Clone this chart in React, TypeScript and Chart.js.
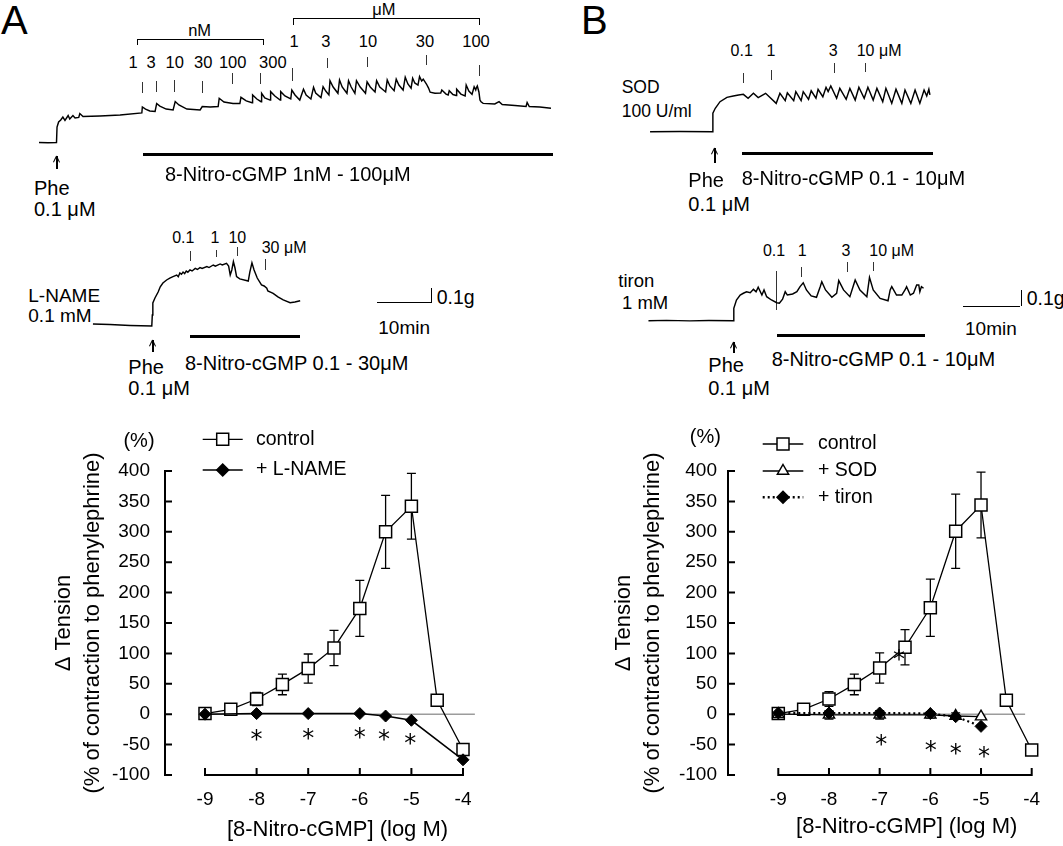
import React, { useEffect, useRef } from "react";
import { Chart, registerables } from "chart.js";

Chart.register(...registerables);

const FONT = '"Liberation Sans", Arial, Helvetica, sans-serif';
Chart.defaults.font.family = FONT;
Chart.defaults.color = "#000";

// ---------------- dose-response data ----------------
const logConc = [-9, -8.5, -8, -7.5, -7, -6.5, -6, -5.5, -5, -4.5, -4];
const controlA = [1, 8, 25, 49, 75, 109, 174, 300, 342, 23, -58];
const controlAErr = [3, 4, 11, 17, 24, 29, 46, 60, 54, 5, 5];
const lnameConc = [-9, -8, -7, -6, -5.5, -5, -4];
const lnameA = [0, 1, 1, 1, -3, -10, -75];
const controlB = [1, 8, 25, 49, 76, 110, 175, 301, 344, 23, -59];
const controlBErr = [3, 4, 12, 17, 25, 29, 47, 61, 54, 5, 5];
const inhConc = [-9, -8, -7, -6, -5.5, -5];
const sodB = [0, -1, -1, -1, -3, -4];
const sodBErr = [7, 7, 7, 5, 5, 3];
const tironB = [2, 2, 2, 1, -4, -20];
const starsAx = [-8, -7, -6, -5.53, -5.02];
const starsAy = [-32, -30, -28, -31, -38];
const starsBx = [-6.62, -6.97, -5.99, -5.5, -4.94];
const starsBy = [100, -40, -50, -55, -60];
const xTickValues = [-9, -8, -7, -6, -5, -4];
const zeroEndA = -3.77;
const zeroEndB = -4.13;

// ---------------- tension traces: [time (min), tension (mg above baseline)] ----------------
const traceControl: number[][] = [
  [1.7, 0], [3.4, -2], [5.0, 0], [5.1, 103], [5.4, 137], [5.8, 150], [6.2, 170], [6.6, 147], [7.2, 180], [7.5, 157],
  [8.1, 180], [8.5, 163], [9.2, 167], [9.4, 193], [10.0, 173], [13.2, 177], [17.0, 183], [21.1, 197],
  [21.2, 237], [21.8, 223], [22.6, 210], [23.6, 207],
  [23.9, 260], [24.5, 243], [25.7, 223], [27.0, 217],
  [27.4, 273], [28.1, 250], [29.6, 223], [32.1, 217],
  [32.5, 240], [34.0, 237], [35.5, 240],
  [35.7, 295], [36.6, 270], [38.3, 260], [39.6, 260],
  [39.8, 301], [40.8, 277], [41.9, 265],
  [42.0, 317], [42.8, 290], [43.6, 272],
  [43.7, 328], [44.3, 297], [45.3, 283],
  [45.4, 339], [46.2, 310], [47.2, 283],
  [47.3, 339], [48.1, 310], [49.2, 290],
  [49.4, 350], [50.0, 317], [50.9, 283],
  [51.6, 355], [52.1, 317], [53.0, 290],
  [53.5, 368], [53.9, 330], [54.9, 299],
  [55.3, 372], [55.8, 343], [56.4, 317],
  [56.6, 412], [57.2, 370], [58.1, 328],
  [58.4, 417], [58.9, 370], [59.8, 328],
  [60.1, 412], [60.6, 370], [61.3, 328],
  [61.6, 412], [62.3, 370], [63.3, 328],
  [63.6, 405], [64.2, 370], [65.1, 337],
  [65.4, 412], [66.0, 370], [67.1, 337],
  [67.4, 417], [67.9, 377], [68.7, 345],
  [69.1, 422], [69.6, 383], [70.4, 350],
  [70.8, 435], [71.3, 390], [71.9, 362],
  [72.2, 428], [72.6, 397], [73.2, 383],
  [73.5, 439], [73.9, 410], [74.2, 422], [74.8, 390], [75.2, 363], [75.5, 335],
  [76.4, 328], [77.5, 330],
  [77.7, 350], [78.5, 323], [78.9, 317],
  [79.1, 345], [79.8, 320], [80.4, 313],
  [80.5, 355], [81.3, 323], [82.1, 310],
  [82.3, 383], [82.8, 343], [83.4, 321],
  [83.8, 372], [84.1, 350], [84.2, 363], [84.4, 377], [84.7, 337], [84.9, 283], [85.1, 272], [85.5, 261],
  [87.7, 257], [88.5, 272], [89.1, 253], [91.5, 247], [93.6, 240], [93.8, 267], [94.2, 240], [96.2, 237], [98.3, 228],
];

const traceLName: number[][] = [
  [1.5, 7], [4.7, 3], [8.5, -3], [12.6, -7], [12.7, 67], [12.8, 147], [13.2, 180], [13.8, 220], [14.2, 255],
  [14.7, 280], [15.4, 300], [16.0, 313], [16.6, 323], [17.3, 333], [17.6, 322], [17.9, 347], [18.2, 338],
  [18.5, 353], [18.8, 343], [19.1, 360], [19.4, 352], [19.8, 367], [20.2, 360], [20.8, 377], [21.2, 370],
  [21.7, 383], [22.1, 377], [23.0, 389], [23.4, 383], [24.2, 400], [24.6, 392], [25.5, 407], [25.9, 400],
  [26.7, 411], [27.1, 393], [27.4, 333], [27.7, 367], [28.0, 422], [28.3, 380], [28.6, 322], [29.2, 307],
  [30.8, 293], [31.1, 353], [31.5, 415], [31.9, 367], [32.5, 313], [33.3, 267], [33.8, 260], [34.3, 245],
  [34.5, 227], [35.5, 211], [36.4, 187], [37.4, 167], [38.7, 149], [39.6, 153], [40.6, 162],
];

const traceSOD: number[][] = [
  [1.9, 0], [7.5, 1], [13.7, 0], [13.75, 123], [14.2, 156], [15.1, 200], [16.4, 229], [17.6, 238], [18.6, 245],
  [19.5, 249], [20.4, 223], [21.4, 256], [22.3, 227], [23.7, 256], [25.7, 189], [26.4, 256], [27.4, 207],
  [27.8, 260], [29.0, 207], [29.4, 267], [30.4, 207], [30.8, 267], [31.8, 216], [32.3, 273], [33.2, 223],
  [33.6, 283], [34.5, 233], [35.1, 296], [35.5, 267], [36.0, 305], [37.1, 223], [37.7, 289], [38.9, 216],
  [39.6, 289], [40.6, 211], [41.3, 296], [42.3, 223], [43.0, 296], [44.0, 211], [44.7, 289], [45.8, 200],
  [46.4, 289], [47.5, 189], [48.3, 283], [49.4, 189], [50.0, 278], [51.1, 189], [51.9, 278], [52.8, 189],
  [53.6, 278], [54.1, 238], [54.5, 283], [54.7, 245],
];

const traceTiron: number[][] = [
  [1.6, 0], [5.0, 2], [9.4, -1], [13.0, 1], [17.6, 0], [17.7, 83], [18.2, 138], [18.9, 171], [19.5, 183],
  [20.1, 193], [20.8, 187], [21.4, 209], [21.9, 193], [22.3, 223], [23.0, 171], [23.4, 205], [23.9, 160],
  [24.8, 138], [25.8, 120], [26.3, 116], [26.9, 143], [27.4, 193], [27.8, 171], [28.8, 178], [29.6, 193],
  [30.2, 227], [30.8, 253], [31.4, 205], [32.3, 165], [33.3, 156], [34.0, 227], [34.3, 260], [35.0, 205],
  [36.2, 156], [37.1, 183], [37.5, 267], [38.4, 205], [39.6, 160], [40.3, 238], [40.6, 271], [41.5, 205],
  [42.8, 160], [43.3, 289], [44.0, 205], [45.3, 149], [46.8, 133], [47.2, 205], [47.5, 227], [48.4, 171],
  [49.4, 171], [50.0, 205], [50.3, 227], [51.0, 171], [51.6, 183], [52.2, 238], [52.6, 238], [52.8, 193],
  [53.1, 227], [53.5, 216],
];

// ---------------- layout ----------------
const PX_PER_MIN = 5.3;
const PX_PER_MG = 0.15;

type Box = { left: number; top: number; width: number; height: number; baseY: number };
const boxControl: Box = { left: 30, top: 60, width: 530, height: 95, baseY: 142.5 };
const boxLName: Box = { left: 85, top: 240, width: 225, height: 95, baseY: 325 };
const boxSOD: Box = { left: 640, top: 60, width: 305, height: 80, baseY: 131.7 };
const boxTiron: Box = { left: 640, top: 245, width: 305, height: 85, baseY: 320.7 };

function TraceChart({ box, trace }: { box: Box; trace: number[][] }) {
  const ref = useRef<HTMLCanvasElement>(null);
  useEffect(() => {
    const chart = new Chart(ref.current as HTMLCanvasElement, {
      type: "line",
      data: {
        datasets: [
          {
            data: trace.map(([t, v]) => ({ x: t, y: v })),
            borderColor: "#000",
            borderWidth: 1.45,
            pointRadius: 0,
            tension: 0,
            fill: false,
          },
        ],
      },
      options: {
        responsive: false,
        animation: false,
        devicePixelRatio: 1,
        events: [],
        layout: { padding: 0 },
        plugins: { legend: { display: false }, tooltip: { enabled: false } },
        scales: {
          x: { type: "linear", display: false, min: 0, max: box.width / PX_PER_MIN },
          y: {
            type: "linear",
            display: false,
            min: -(box.top + box.height - box.baseY) / PX_PER_MG,
            max: (box.baseY - box.top) / PX_PER_MG,
          },
        },
      },
    } as any);
    return () => chart.destroy();
  }, []);
  return (
    <canvas
      ref={ref}
      width={box.width}
      height={box.height}
      style={{ position: "absolute", left: box.left, top: box.top }}
    />
  );
}

type LegendItem = { label: string; marker: string; dashed: boolean; y: number };
type DRConfig = {
  left: number;
  top: number;
  width: number;
  height: number;
  axisLeft: number;
  xAtMin9: number;
  xAtMin4: number;
  right: number;
  y400: number;
  yMin100: number;
  yLabelPad: number;
  xTitleBottomPad: number;
  datasets: any[];
  starsX: number[];
  starsY: number[];
  legend: { x1: number; x2: number; textX: number; items: LegendItem[] };
  pct: { x: number; y: number };
};

function drawMarker(ctx: CanvasRenderingContext2D, marker: string, x: number, y: number) {
  ctx.save();
  ctx.setLineDash([]);
  ctx.lineWidth = 1.5;
  ctx.strokeStyle = "#000";
  ctx.beginPath();
  if (marker === "square") {
    ctx.rect(x - 6, y - 6, 12, 12);
    ctx.fillStyle = "#fff";
  } else if (marker === "diamond") {
    ctx.moveTo(x - 6, y);
    ctx.lineTo(x, y - 6);
    ctx.lineTo(x + 6, y);
    ctx.lineTo(x, y + 6);
    ctx.closePath();
    ctx.fillStyle = "#000";
  } else {
    const r = 6.5;
    ctx.moveTo(x, y - r);
    ctx.lineTo(x + r * 0.866, y + r / 2);
    ctx.lineTo(x - r * 0.866, y + r / 2);
    ctx.closePath();
    ctx.fillStyle = "#fff";
  }
  ctx.fill();
  ctx.stroke();
  ctx.restore();
}

function DoseResponse({ cfg }: { cfg: DRConfig }) {
  const ref = useRef<HTMLCanvasElement>(null);
  useEffect(() => {
    const unit = (cfg.xAtMin4 - cfg.xAtMin9) / 5;
    const xMin = -9 - (cfg.xAtMin9 - cfg.axisLeft) / unit;
    const xMax = -4 + (cfg.right - cfg.xAtMin4) / unit;
    const decor = {
      id: "decor",
      beforeDatasetsDraw(chart: any) {
        const { ctx, chartArea } = chart;
        const xs = chart.scales.x;
        const ys = chart.scales.y;
        ctx.save();
        ctx.strokeStyle = "#000";
        ctx.lineWidth = 2;
        const ax = chartArea.left;
        const yTop = ys.getPixelForValue(ys.max);
        const yBot = ys.getPixelForValue(ys.min);
        ctx.beginPath();
        ctx.moveTo(ax, yTop - 1);
        ctx.lineTo(ax, yBot + 1);
        ys.ticks.forEach((t: any) => {
          const py = ys.getPixelForValue(t.value);
          ctx.moveTo(ax, py);
          ctx.lineTo(ax + 7, py);
        });
        const xt = xs.ticks.map((t: any) => t.value);
        ctx.moveTo(xs.getPixelForValue(xt[0]) - 1, yBot);
        ctx.lineTo(xs.getPixelForValue(xt[xt.length - 1]) + 1, yBot);
        xt.forEach((v: number) => {
          const px = xs.getPixelForValue(v);
          ctx.moveTo(px, yBot);
          ctx.lineTo(px, yBot - 7);
        });
        ctx.stroke();
        ctx.lineWidth = 1.3;
        chart.data.datasets.forEach((ds: any) => {
          if (!ds.errorBars) return;
          ctx.beginPath();
          ds.data.forEach((p: any, j: number) => {
            const e = ds.errorBars[j];
            if (!e) return;
            const px = xs.getPixelForValue(p.x);
            const pt = ys.getPixelForValue(p.y + e);
            const pb = ys.getPixelForValue(p.y - e);
            ctx.moveTo(px, pt);
            ctx.lineTo(px, pb);
            ctx.moveTo(px - 4.5, pt);
            ctx.lineTo(px + 4.5, pt);
            ctx.moveTo(px - 4.5, pb);
            ctx.lineTo(px + 4.5, pb);
          });
          ctx.stroke();
        });
        ctx.restore();
      },
      afterDatasetsDraw(chart: any) {
        const { ctx } = chart;
        const xs = chart.scales.x;
        const ys = chart.scales.y;
        ctx.save();
        ctx.fillStyle = "#000";
        ctx.font = '24px "DejaVu Sans"';
        ctx.textAlign = "center";
        ctx.textBaseline = "alphabetic";
        cfg.starsX.forEach((sx, i) => {
          ctx.fillText("*", xs.getPixelForValue(sx), ys.getPixelForValue(cfg.starsY[i]) + 13.5);
        });
        // legend
        const L = cfg.legend;
        L.items.forEach((it) => {
          const y = it.y - cfg.top;
          const x1 = L.x1 - cfg.left;
          const x2 = L.x2 - cfg.left;
          ctx.beginPath();
          ctx.strokeStyle = "#000";
          ctx.setLineDash(it.dashed ? [2, 3] : []);
          ctx.lineWidth = it.dashed ? 2.4 : 1.3;
          ctx.moveTo(x1, y);
          ctx.lineTo(x2, y);
          ctx.stroke();
          ctx.setLineDash([]);
          drawMarker(ctx, it.marker, (x1 + x2) / 2, y);
          ctx.fillStyle = "#000";
          ctx.font = `19.5px ${FONT}`;
          ctx.textAlign = "left";
          ctx.textBaseline = "middle";
          ctx.fillText(it.label, L.textX - cfg.left, y);
        });
        ctx.font = `20px ${FONT}`;
        ctx.textAlign = "center";
        ctx.textBaseline = "middle";
        ctx.fillText("(%)", cfg.pct.x - cfg.left, cfg.pct.y - cfg.top);
        ctx.restore();
      },
    };
    const chart = new Chart(ref.current as HTMLCanvasElement, {
      type: "line",
      data: { datasets: cfg.datasets },
      options: {
        responsive: false,
        animation: false,
        devicePixelRatio: 1,
        events: [],
        layout: {
          padding: {
            left: 0,
            top: cfg.y400 - cfg.top,
            right: cfg.left + cfg.width - cfg.right,
            bottom: 0,
          },
        },
        plugins: { legend: { display: false }, tooltip: { enabled: false } },
        scales: {
          x: {
            type: "linear",
            min: xMin,
            max: xMax,
            afterBuildTicks: (s: any) => {
              s.ticks = xTickValues.map((v) => ({ value: v }));
            },
            afterFit: (s: any) => {
              s.height = cfg.top + cfg.height - cfg.yMin100;
            },
            grid: { display: false, drawTicks: false },
            border: { display: false },
            ticks: {
              color: "#000",
              font: { size: 19 },
              padding: 13.5,
              maxRotation: 0,
              autoSkip: false,
              callback: (v: any) => String(v),
            },
            title: {
              display: true,
              text: "[8-Nitro-cGMP] (log M)",
              color: "#000",
              font: { size: 22, lineHeight: 1.2 },
              padding: { top: 0, bottom: cfg.xTitleBottomPad },
            },
          },
          y: {
            type: "linear",
            min: -100,
            max: 400,
            afterFit: (s: any) => {
              s.width = cfg.axisLeft - cfg.left;
            },
            grid: { display: false, drawTicks: false },
            border: { display: false },
            ticks: { color: "#000", font: { size: 19 }, stepSize: 50, padding: cfg.yLabelPad },
            title: {
              display: true,
              text: ["\u0394 Tension", "(% of contraction to phenylephrine)"],
              color: "#000",
              font: { size: 22, lineHeight: 1.3 },
              padding: { top: 49.7, bottom: 0 },
            },
          },
        },
      },
      plugins: [decor],
    } as any);
    return () => chart.destroy();
  }, []);
  return (
    <canvas
      ref={ref}
      width={cfg.width}
      height={cfg.height}
      style={{ position: "absolute", left: cfg.left, top: cfg.top }}
    />
  );
}

const pts = (xs: number[], ys: number[]) => xs.map((x, i) => ({ x, y: ys[i] }));

const zeroLine = (end: number) => ({
  data: [
    { x: -9, y: 0 },
    { x: end, y: 0 },
  ],
  borderColor: "#9c9c9c",
  borderWidth: 1.5,
  pointRadius: 0,
  order: 10,
});

const controlStyle = (data: any, err: number[]) => ({
  data,
  errorBars: err,
  borderColor: "#000",
  borderWidth: 1.3,
  pointStyle: "rect",
  pointRadius: 8.5,
  pointBackgroundColor: "#fff",
  pointBorderColor: "#000",
  pointBorderWidth: 1.5,
  tension: 0,
  order: 3,
});

const cfgA: DRConfig = {
  left: 0,
  top: 420,
  width: 520,
  height: 426,
  axisLeft: 165,
  xAtMin9: 205,
  xAtMin4: 463,
  right: 510,
  y400: 471,
  yMin100: 775,
  yLabelPad: 15,
  xTitleBottomPad: 2.8,
  datasets: [
    zeroLine(zeroEndA),
    controlStyle(pts(logConc, controlA), controlAErr),
    {
      data: pts(lnameConc, lnameA),
      borderColor: "#000",
      borderWidth: 1.5,
      pointStyle: "rectRot",
      pointRadius: 6,
      pointBackgroundColor: "#000",
      pointBorderColor: "#000",
      pointBorderWidth: 1,
      tension: 0,
      order: 1,
    },
  ],
  starsX: starsAx,
  starsY: starsAy,
  legend: {
    x1: 202.7,
    x2: 242.7,
    textX: 256,
    items: [
      { label: "control", marker: "square", dashed: false, y: 439.3 },
      { label: "+ L-NAME", marker: "diamond", dashed: false, y: 470 },
    ],
  },
  pct: { x: 139, y: 441.7 },
};

const cfgB: DRConfig = {
  left: 560,
  top: 420,
  width: 540,
  height: 426,
  axisLeft: 728,
  xAtMin9: 778.3,
  xAtMin4: 1031.7,
  right: 1085.4,
  y400: 471,
  yMin100: 775,
  yLabelPad: 11,
  xTitleBottomPad: 6.1,
  datasets: [
    zeroLine(zeroEndB),
    controlStyle(pts(logConc, controlB), controlBErr),
    {
      data: pts(inhConc, sodB),
      errorBars: sodBErr,
      borderColor: "#000",
      borderWidth: 1.3,
      pointStyle: "triangle",
      pointRadius: 6.5,
      pointBackgroundColor: "#fff",
      pointBorderColor: "#000",
      pointBorderWidth: 1.4,
      tension: 0,
      order: 2,
    },
    {
      data: pts(inhConc, tironB),
      borderColor: "#000",
      borderWidth: 2.2,
      borderDash: [2, 3],
      pointStyle: "rectRot",
      pointRadius: 6,
      pointBackgroundColor: "#000",
      pointBorderColor: "#000",
      pointBorderWidth: 1,
      tension: 0,
      order: 1,
    },
  ],
  starsX: starsBx,
  starsY: starsBy,
  legend: {
    x1: 762.7,
    x2: 803.3,
    textX: 818,
    items: [
      { label: "control", marker: "square", dashed: false, y: 444 },
      { label: "+ SOD", marker: "triangle", dashed: false, y: 471 },
      { label: "+ tiron", marker: "diamond", dashed: true, y: 497.3 },
    ],
  },
  pct: { x: 705.3, y: 437.5 },
};

// ---------------- annotation helpers ----------------
function T({ x, y, s, c, children }: { x: number; y: number; s: number; c?: boolean; children: any }) {
  return (
    <div
      style={{
        position: "absolute",
        left: x,
        top: y,
        fontSize: s,
        lineHeight: 1,
        whiteSpace: "nowrap",
        transform: c ? "translate(-50%,-50%)" : "translateY(-50%)",
      }}
    >
      {children}
    </div>
  );
}

function R({ x, y, w, h, color }: { x: number; y: number; w: number; h: number; color?: string }) {
  return <div style={{ position: "absolute", left: x, top: y, width: w, height: h, background: color || "#000" }} />;
}

function Arrow({ x, y1, y2 }: { x: number; y1: number; y2: number }) {
  const head = (deg: number) => (
    <div
      style={{
        position: "absolute",
        left: x - 0.6,
        top: y1,
        width: 1.3,
        height: 7,
        background: "#000",
        transformOrigin: "top center",
        transform: `rotate(${deg}deg)`,
      }}
    />
  );
  return (
    <>
      <R x={x - 0.6} y={y1} w={1.3} h={y2 - y1} />
      {head(26)}
      {head(-26)}
    </>
  );
}

const DoseTicks = ({ list }: { list: number[][] }) => (
  <>
    {list.map(([x, a, b], i) => (
      <R key={i} x={x - 0.5} y={a} w={1} h={b - a} color="#333" />
    ))}
  </>
);

export default function App() {
  return (
    <div
      style={{
        position: "absolute",
        left: 0,
        top: 0,
        width: 1063,
        height: 846,
        overflow: "hidden",
        background: "#fff",
        color: "#000",
        fontFamily: FONT,
      }}
    >
      {/* ---------- Panel A traces ---------- */}
      <T x={1} y={20} s={40}>A</T>
      <R x={293} y={18} w={187} h={1} />
      <R x={293} y={18} w={1} h={7} />
      <R x={479} y={18} w={1} h={7} />
      <T x={384} y={9} s={16.5} c>μM</T>
      <R x={137} y={39} w={127} h={1} />
      <R x={137} y={39} w={1} h={6} />
      <R x={263} y={39} w={1} h={6} />
      <T x={199.6} y={30} s={16.5} c>nM</T>
      <T x={294} y={41} s={16.5} c>1</T>
      <T x={325.8} y={41} s={16.5} c>3</T>
      <T x={368} y={41} s={16.5} c>10</T>
      <T x={425} y={41} s={16.5} c>30</T>
      <T x={476} y={41} s={16.5} c>100</T>
      <T x={133} y={62} s={16.5} c>1</T>
      <T x={151} y={62} s={16.5} c>3</T>
      <T x={174.7} y={62} s={16.5} c>10</T>
      <T x={203.3} y={62} s={16.5} c>30</T>
      <T x={232.7} y={62} s={16.5} c>100</T>
      <T x={272.8} y={62} s={16.5} c>300</T>
      <DoseTicks
        list={[
          [142, 82, 93], [156.7, 81, 92], [174.3, 80, 91.5], [202.3, 81, 92.5], [232.3, 73, 84], [260.7, 73, 84],
          [292, 68, 81], [327.7, 58, 68], [367.3, 57, 67], [426, 55, 65], [479.3, 65, 76],
        ]}
      />
      <TraceChart box={boxControl} trace={traceControl} />
      <Arrow x={57} y1={156} y2={168.5} />
      <T x={34} y={187.5} s={20}>Phe</T>
      <T x={34} y={209} s={20}>0.1 μM</T>
      <R x={143} y={153} w={410} h={3} />
      <T x={165} y={174} s={20}>8-Nitro-cGMP 1nM - 100μM</T>

      {/* L-NAME trace */}
      <T x={183.3} y={237.5} s={16} c>0.1</T>
      <T x={215} y={237.5} s={16} c>1</T>
      <T x={237.3} y={237.5} s={16} c>10</T>
      <T x={261.7} y={247.5} s={16}>30 μM</T>
      <DoseTicks list={[[190.7, 250.7, 260.7], [216, 250, 256.7], [237.3, 246.7, 255.7], [265, 259.3, 270]]} />
      <T x={28.3} y={295} s={19}>L-NAME</T>
      <T x={28.3} y={315} s={19}>0.1 mM</T>
      <TraceChart box={boxLName} trace={traceLName} />
      <Arrow x={153} y1={340} y2={352} />
      <T x={128.3} y={366.7} s={20}>Phe</T>
      <T x={128.3} y={388} s={20}>0.1 μM</T>
      <R x={190} y={334.5} w={110} h={3} />
      <T x={185} y={362.5} s={20}>8-Nitro-cGMP 0.1 - 30μM</T>
      <R x={376.7} y={302} w={54} h={1} />
      <R x={430.5} y={288} w={1.3} h={15} />
      <T x={436.7} y={298} s={19.5}>0.1g</T>
      <T x={378.3} y={326.7} s={19}>10min</T>

      {/* ---------- Panel B traces ---------- */}
      <T x={581} y={20} s={40}>B</T>
      <T x={621.7} y={88} s={17.5}>SOD</T>
      <T x={621.7} y={112} s={17.5}>100 U/ml</T>
      <T x={741.7} y={51} s={16} c>0.1</T>
      <T x={771} y={51} s={16} c>1</T>
      <T x={833.3} y={51} s={16} c>3</T>
      <T x={856.7} y={51} s={16}>10 μM</T>
      <DoseTicks list={[[743.3, 72.7, 82.7], [771, 70, 80], [834.3, 63.3, 72.7], [865, 62.7, 72]]} />
      <TraceChart box={boxSOD} trace={traceSOD} />
      <Arrow x={715} y1={148.3} y2={163.3} />
      <T x={688.3} y={180} s={20}>Phe</T>
      <T x={688.3} y={203.5} s={20}>0.1 μM</T>
      <R x={741.7} y={151.5} w={191.6} h={3} />
      <T x={741.7} y={177.5} s={20}>8-Nitro-cGMP 0.1 - 10μM</T>

      {/* tiron trace */}
      <T x={618.3} y={281} s={18.5}>tiron</T>
      <T x={622} y={302.5} s={18.5}>1 mM</T>
      <T x={774} y={251} s={16} c>0.1</T>
      <T x={802.3} y={251} s={16} c>1</T>
      <T x={846} y={251} s={16} c>3</T>
      <T x={869.3} y={251} s={16}>10 μM</T>
      <DoseTicks list={[[776.7, 271, 310], [801.7, 266.7, 276.7], [847.3, 261.7, 271.7], [873.3, 261.7, 270.7]]} />
      <TraceChart box={boxTiron} trace={traceTiron} />
      <Arrow x={734} y1={341.7} y2={353.3} />
      <T x={708.3} y={365} s={20}>Phe</T>
      <T x={708.3} y={388} s={20}>0.1 μM</T>
      <R x={776.7} y={333.5} w={148.3} h={3} />
      <T x={771.7} y={359} s={20}>8-Nitro-cGMP 0.1 - 10μM</T>
      <R x={963.3} y={305.5} w={57} h={1} />
      <R x={1021} y={290} w={1.3} h={16} />
      <T x={1026.7} y={298.5} s={19.5}>0.1g</T>
      <T x={965} y={328} s={19}>10min</T>

      {/* ---------- dose-response charts ---------- */}
      <DoseResponse cfg={cfgA} />
      <DoseResponse cfg={cfgB} />
    </div>
  );
}
